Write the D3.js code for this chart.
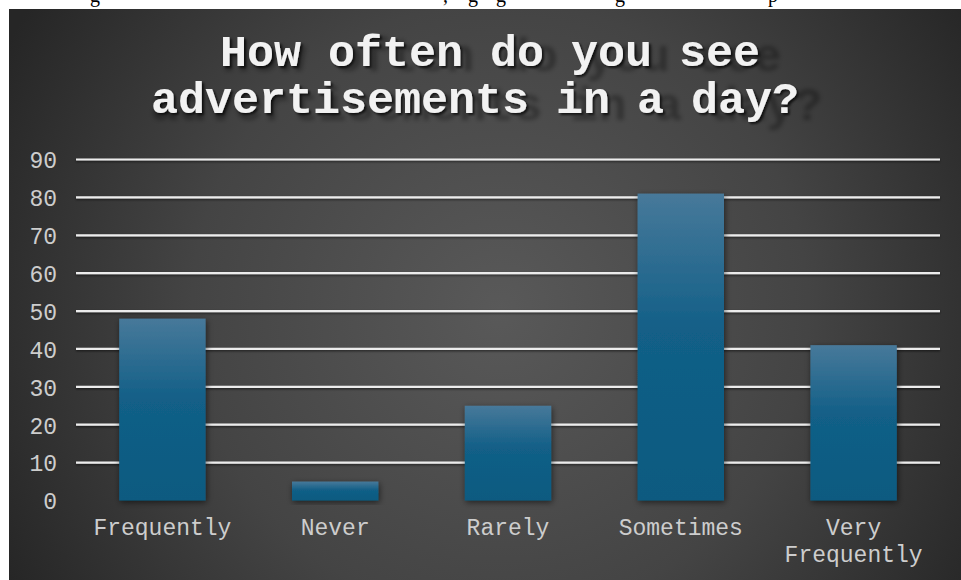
<!DOCTYPE html>
<html>
<head>
<meta charset="utf-8">
<script src="https://cdn.jsdelivr.net/npm/d3@7/dist/d3.min.js"></script>
<style>
  html, body { margin: 0; padding: 0; background: #fff; }
  svg { display: block; }
</style>
</head>
<body>
<svg id="chart" width="961" height="580"></svg>
<script>
// Survey answers and counts
const categories = ["Frequently", "Never", "Rarely", "Sometimes", "Very Frequently"];
const values = [48, 5, 25, 81, 41];
const yTicks = [0, 10, 20, 30, 40, 50, 60, 70, 80, 90];
const titleLines = ["How often do you see", "advertisements in a day?"];
// Fragments of the preceding document line peeking above the chart frame
const strayGlyphs = [["g", 90], [",", 443], ["g", 468], ["g", 496], ["g", 615], ["p", 768]];

const W = 961, H = 580;
const frame = { x: 9, y: 9, w: W - 9, h: H - 9 };
const plot = { left: 76, right: 940, top: 159.5, bottom: 500.5 };
const monoFont = "'Liberation Mono', 'Courier New', monospace";

const svg = d3.select("#chart");
const defs = svg.append("defs");

// radial background
const bg = defs.append("radialGradient").attr("id", "bgGrad")
  .attr("gradientUnits", "userSpaceOnUse")
  .attr("cx", 500).attr("cy", 310).attr("r", 560);
bg.append("stop").attr("offset", "0%").attr("stop-color", "#595959");
bg.append("stop").attr("offset", "55%").attr("stop-color", "#444444");
bg.append("stop").attr("offset", "100%").attr("stop-color", "#262626");

// bar fill
const barGrad = defs.append("linearGradient").attr("id", "barGrad")
  .attr("x1", 0).attr("y1", 0).attr("x2", 0).attr("y2", 1);
barGrad.append("stop").attr("offset", "0%").attr("stop-color", "#47799a");
barGrad.append("stop").attr("offset", "45%").attr("stop-color", "#125f87");
barGrad.append("stop").attr("offset", "100%").attr("stop-color", "#0b5a80");

const barShadow = defs.append("filter").attr("id", "barShadow")
  .attr("x", "-20%").attr("y", "-20%").attr("width", "140%").attr("height", "140%");
barShadow.append("feDropShadow").attr("dx", 1).attr("dy", 2)
  .attr("stdDeviation", 3).attr("flood-color", "#000").attr("flood-opacity", 0.55);

const lineShadow = defs.append("filter").attr("id", "lineShadow")
  .attr("x", "-1%").attr("y", "-200%").attr("width", "102%").attr("height", "500%");
lineShadow.append("feDropShadow").attr("dx", 0).attr("dy", 1.2)
  .attr("stdDeviation", 0.8).attr("flood-color", "#000").attr("flood-opacity", 0.6);

const titleShadow = defs.append("filter").attr("id", "titleShadow")
  .attr("x", "-5%").attr("y", "-20%").attr("width", "110%").attr("height", "140%");
titleShadow.append("feDropShadow").attr("dx", 2).attr("dy", 2)
  .attr("stdDeviation", 1.3).attr("flood-color", "#000").attr("flood-opacity", 0.7);

const softBlur = defs.append("filter").attr("id", "softBlur");
softBlur.append("feGaussianBlur").attr("stdDeviation", 1.8);

// stray serif descenders above the frame
const clipTop = defs.append("clipPath").attr("id", "clipTop");
clipTop.append("rect").attr("x", 0).attr("y", 0).attr("width", W).attr("height", frame.y);
svg.append("g").attr("clip-path", "url(#clipTop)")
  .selectAll("text").data(strayGlyphs).join("text")
  .attr("x", d => d[1]).attr("y", 2)
  .attr("font-family", "Liberation Serif, serif").attr("font-size", 20)
  .attr("fill", "#000").text(d => d[0]);

// chart frame
svg.append("rect")
  .attr("x", frame.x).attr("y", frame.y).attr("width", frame.w).attr("height", frame.h)
  .attr("fill", "url(#bgGrad)");

// title with a stretched, soft cast shadow behind it
const titleX = [490, 475];
const titleY = [66, 113];

const cast = svg.append("g")
  .attr("transform", "translate(0,3) translate(154,20) scale(1.036,1.04) translate(-154,-20)")
  .attr("filter", "url(#softBlur)").attr("opacity", 0.3);
cast.selectAll("text").data(titleLines).join("text")
  .attr("x", (d, i) => titleX[i]).attr("y", (d, i) => titleY[i])
  .attr("text-anchor", "middle")
  .attr("font-family", monoFont).attr("font-weight", "bold").attr("font-size", 45)
  .attr("fill", "#000").text(d => d);

svg.append("g").attr("filter", "url(#titleShadow)")
  .selectAll("text").data(titleLines).join("text")
  .attr("x", (d, i) => titleX[i]).attr("y", (d, i) => titleY[i])
  .attr("text-anchor", "middle")
  .attr("font-family", monoFont).attr("font-weight", "bold").attr("font-size", 45)
  .attr("fill", "#f2f2f2").text(d => d);

// scales
const x = d3.scaleBand().domain(categories)
  .range([plot.left, plot.right]).paddingInner(0.5).paddingOuter(0.25);
const y = d3.scaleLinear().domain([0, 90]).range([plot.bottom, plot.top]);

// gridlines (behind bars)
svg.append("g").attr("filter", "url(#lineShadow)")
  .selectAll("line").data(yTicks.filter(t => t > 0)).join("line")
  .attr("x1", plot.left).attr("x2", plot.right)
  .attr("y1", d => y(d)).attr("y2", d => y(d))
  .attr("stroke", "#ececec").attr("stroke-width", 2.2);

// y axis labels
const yAxis = d3.axisLeft(y).tickValues(yTicks).tickSize(0).tickPadding(0);
const yG = svg.append("g").attr("transform", `translate(${plot.left - 19},0)`).call(yAxis);
yG.select(".domain").remove();
yG.selectAll("text")
  .attr("font-family", monoFont)
  .attr("font-size", 23).attr("fill", "#cdcdcd").attr("dy", "0.36em");

// bars
svg.append("g").selectAll("rect").data(values).join("rect")
  .attr("x", (d, i) => x(categories[i]))
  .attr("width", x.bandwidth())
  .attr("y", d => y(d))
  .attr("height", d => y(0) - y(d))
  .attr("fill", "url(#barGrad)")
  .attr("filter", "url(#barShadow)");

// horizontal axis line on top
svg.append("line").attr("filter", "url(#lineShadow)")
  .attr("x1", plot.left).attr("x2", plot.right)
  .attr("y1", y(0)).attr("y2", y(0))
  .attr("stroke", "#ececec").attr("stroke-width", 2.4);

// category labels, wrapped to the band width
const xAxis = d3.axisBottom(x).tickSize(0).tickPadding(0);
const xG = svg.append("g").attr("transform", `translate(0,${plot.bottom})`).call(xAxis);
xG.select(".domain").remove();
xG.selectAll("text")
  .attr("font-family", monoFont)
  .attr("font-size", 23).attr("fill", "#cdcdcd")
  .attr("y", 34).attr("dy", 0)
  .each(function (d) {
    const t = d3.select(this);
    const maxW = x.step();
    const approx = d.length * 23 * 0.6;
    if (approx > maxW && d.includes(" ")) {
      const words = d.split(" ");
      t.text(null);
      words.forEach((w, k) => {
        t.append("tspan").attr("x", 0).attr("dy", k === 0 ? 0 : 27).text(w);
      });
    }
  });
</script>
</body>
</html>
